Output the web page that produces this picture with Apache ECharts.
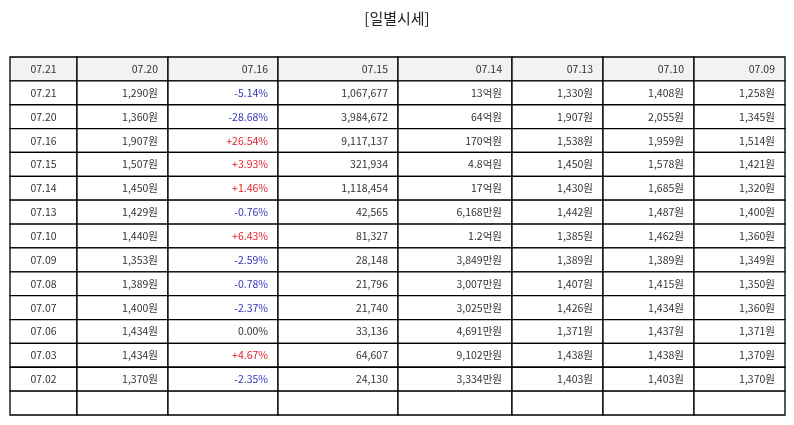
<!DOCTYPE html>
<html>
<head>
<meta charset="utf-8">
<script src="https://cdn.jsdelivr.net/npm/echarts@6/dist/echarts.min.js"></script>
<style>
  html, body { margin: 0; padding: 0; background: #fff; }
  #chart { width: 794px; height: 425px; }
</style>
</head>
<body>
<div id="chart"></div>
<script>
// header row
var headers = ["07.21", "07.20", "07.16", "07.15", "07.14", "07.13", "07.10", "07.09"];

// column values, one array per column
var dates = ["07.21", "07.20", "07.16", "07.15", "07.14", "07.13", "07.10", "07.09", "07.08", "07.07", "07.06", "07.03", "07.02"];
var closes = ["1,290원", "1,360원", "1,907원", "1,507원", "1,450원", "1,429원", "1,440원", "1,353원", "1,389원", "1,400원", "1,434원", "1,434원", "1,370원"];
var changes = ["-5.14%", "-28.68%", "+26.54%", "+3.93%", "+1.46%", "-0.76%", "+6.43%", "-2.59%", "-0.78%", "-2.37%", "0.00%", "+4.67%", "-2.35%"];
var volumes = ["1,067,677", "3,984,672", "9,117,137", "321,934", "1,118,454", "42,565", "81,327", "28,148", "21,796", "21,740", "33,136", "64,607", "24,130"];
var amounts = ["13억원", "64억원", "170억원", "4.8억원", "17억원", "6,168만원", "1.2억원", "3,849만원", "3,007만원", "3,025만원", "4,691만원", "9,102만원", "3,334만원"];
var opens = ["1,330원", "1,907원", "1,538원", "1,450원", "1,430원", "1,442원", "1,385원", "1,389원", "1,407원", "1,426원", "1,371원", "1,438원", "1,403원"];
var highs = ["1,408원", "2,055원", "1,959원", "1,578원", "1,685원", "1,487원", "1,462원", "1,389원", "1,415원", "1,434원", "1,437원", "1,438원", "1,403원"];
var lows = ["1,258원", "1,345원", "1,514원", "1,421원", "1,320원", "1,400원", "1,360원", "1,349원", "1,350원", "1,360원", "1,371원", "1,370원", "1,370원"];

var columns = [dates, closes, changes, volumes, amounts, opens, highs, lows];

// layout: column edges in pixels (x axis maps 1:1 to page pixels)
var colEdges = [10, 77, 168, 278, 398, 512, 603, 694, 785];
var rowCount = dates.length + 2; // header + data + empty row

var cells = [];
for (var r = 0; r < rowCount; r++) {
  for (var c = 0; c < headers.length; c++) {
    var text = "";
    if (r === 0) text = headers[c];
    else if (r <= dates.length) text = columns[c][r - 1];
    cells.push([c, r, text]);
  }
}

function textColor(r, c, text) {
  if (c === 2 && r > 0) {
    if (text.charAt(0) === "+") return "#e0202a";
    if (text.charAt(0) === "-") return "#3333bb";
  }
  return "#333";
}

function renderCell(params, api) {
  var c = api.value(0), r = api.value(1);
  var text = cells[params.dataIndex][2];
  var p0 = api.coord([colEdges[c], r]);
  var p1 = api.coord([colEdges[c + 1], r + 1]);
  var w = p1[0] - p0[0], h = p1[1] - p0[1];
  var center = c === 0;
  return {
    type: "group",
    children: [
      {
        type: "rect",
        shape: { x: p0[0], y: p0[1], width: w, height: h },
        style: { fill: r === 0 ? "#f2f2f2" : "#fff", stroke: "#000", lineWidth: 1.3 }
      },
      {
        type: "text",
        style: {
          text: text,
          x: center ? p0[0] + w / 2 : p1[0] - 10,
          y: p0[1] + h / 2,
          align: center ? "center" : "right",
          verticalAlign: "middle",
          fill: textColor(r, c, text),
          font: '10.5px "Noto Sans CJK KR", "Noto Sans", sans-serif'
        }
      }
    ]
  };
}

var chart = echarts.init(document.getElementById("chart"), null, { renderer: "canvas" });
chart.setOption({
  animation: false,
  title: {
    text: "[일별시세]",
    left: "center",
    top: 6,
    textStyle: { fontSize: 15, fontWeight: "normal", color: "#222", fontFamily: '"Noto Sans CJK KR", sans-serif' }
  },
  grid: { left: 10, right: 9, top: 57, bottom: 10 },
  xAxis: { type: "value", min: 10, max: 785, show: false },
  yAxis: { type: "value", min: 0, max: rowCount, inverse: true, show: false },
  series: [{
    type: "custom",
    renderItem: renderCell,
    encode: { x: 0, y: 1 },
    data: cells.map(function (d) { return [d[0], d[1]]; })
  }]
});
</script>
</body>
</html>
